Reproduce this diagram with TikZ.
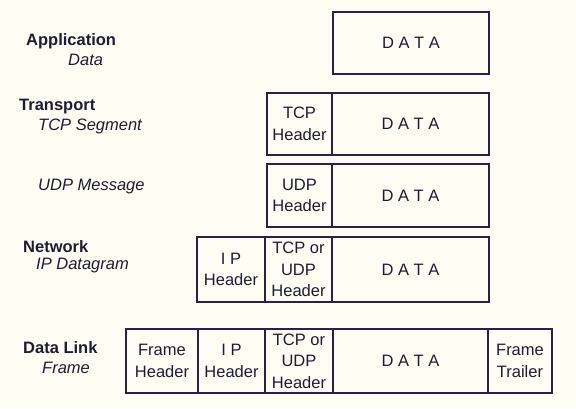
\documentclass[tikz,border=0pt]{standalone}
\usepackage{fontspec}
\setmainfont{Liberation Sans}
\definecolor{paper}{RGB}{253,253,244}
\definecolor{ink}{RGB}{30,28,52}
\definecolor{rule}{RGB}{42,32,72}

\begin{document}
\begin{tikzpicture}[x=1pt,y=-1pt,
    every node/.style={font=\fontsize{16.5}{21.5}\selectfont,text=ink},
    cell/.style={draw=rule,line width=1.3pt,inner sep=0pt,outer sep=0pt,
      align=center,anchor=north west},
    layer/.style={anchor=base west,inner sep=0pt,font=\fontsize{16.5}{21.5}\selectfont\bfseries},
    unit/.style={anchor=base west,inner sep=0pt,font=\fontsize{16.5}{21.5}\selectfont\itshape}]
    \fill[paper] (0,0) rectangle (576,408);
    \useasboundingbox (0,0) rectangle (576,408);
    % layer names
    \node[layer] (lapp) at (26,45) {Application};
    \node[unit] (uapp) at (68,65) {Data};
    \node[layer] (ltra) at (19,110) {Transport};
    \node[unit] (utcp) at (38,130) {TCP Segment};
    \node[unit] (uudp) at (38,190) {UDP Message};
    \node[layer] (lnet) at (23,252) {Network};
    \node[unit] (unet) at (36,269) {IP Datagram};
    \node[layer] (llink) at (23,353) {Data Link};
    \node[unit] (ulink) at (42,373) {Frame};
    % application
    \node[cell,minimum width=156pt,minimum height=62pt] (appdata) at (333,12) {D A T A};
    % transport
    \node[cell,minimum width=65pt,minimum height=62pt] (tcphdr) at (267,93) {TCP\\Header};
    \node[cell,minimum width=157pt,minimum height=62pt] (tcpdata) at (tcphdr.north east) {D A T A};
    \node[cell,minimum width=65pt,minimum height=63pt] (udphdr) at (267,164) {UDP\\Header};
    \node[cell,minimum width=157pt,minimum height=63pt] (udpdata) at (udphdr.north east) {D A T A};
    % network
    \node[cell,minimum width=68pt,minimum height=65pt] (iphdr) at (197,237) {I P\\Header};
    \node[cell,minimum width=67pt,minimum height=65pt] (ipseg) at (iphdr.north east) {TCP or\\UDP\\Header};
    \node[cell,minimum width=157pt,minimum height=65pt] (ipdata) at (ipseg.north east) {D A T A};
    % data link
    \node[cell,minimum width=72pt,minimum height=64pt] (frhdr) at (126,329) {Frame\\Header};
    \node[cell,minimum width=67pt,minimum height=64pt] (frip) at (frhdr.north east) {I P\\Header};
    \node[cell,minimum width=68pt,minimum height=64pt] (frseg) at (frip.north east) {TCP or\\UDP\\Header};
    \node[cell,minimum width=155pt,minimum height=64pt] (frdata) at (frseg.north east) {D A T A};
    \node[cell,minimum width=64pt,minimum height=64pt] (frtrl) at (frdata.north east) {Frame\\Trailer};
\end{tikzpicture}
\end{document}
